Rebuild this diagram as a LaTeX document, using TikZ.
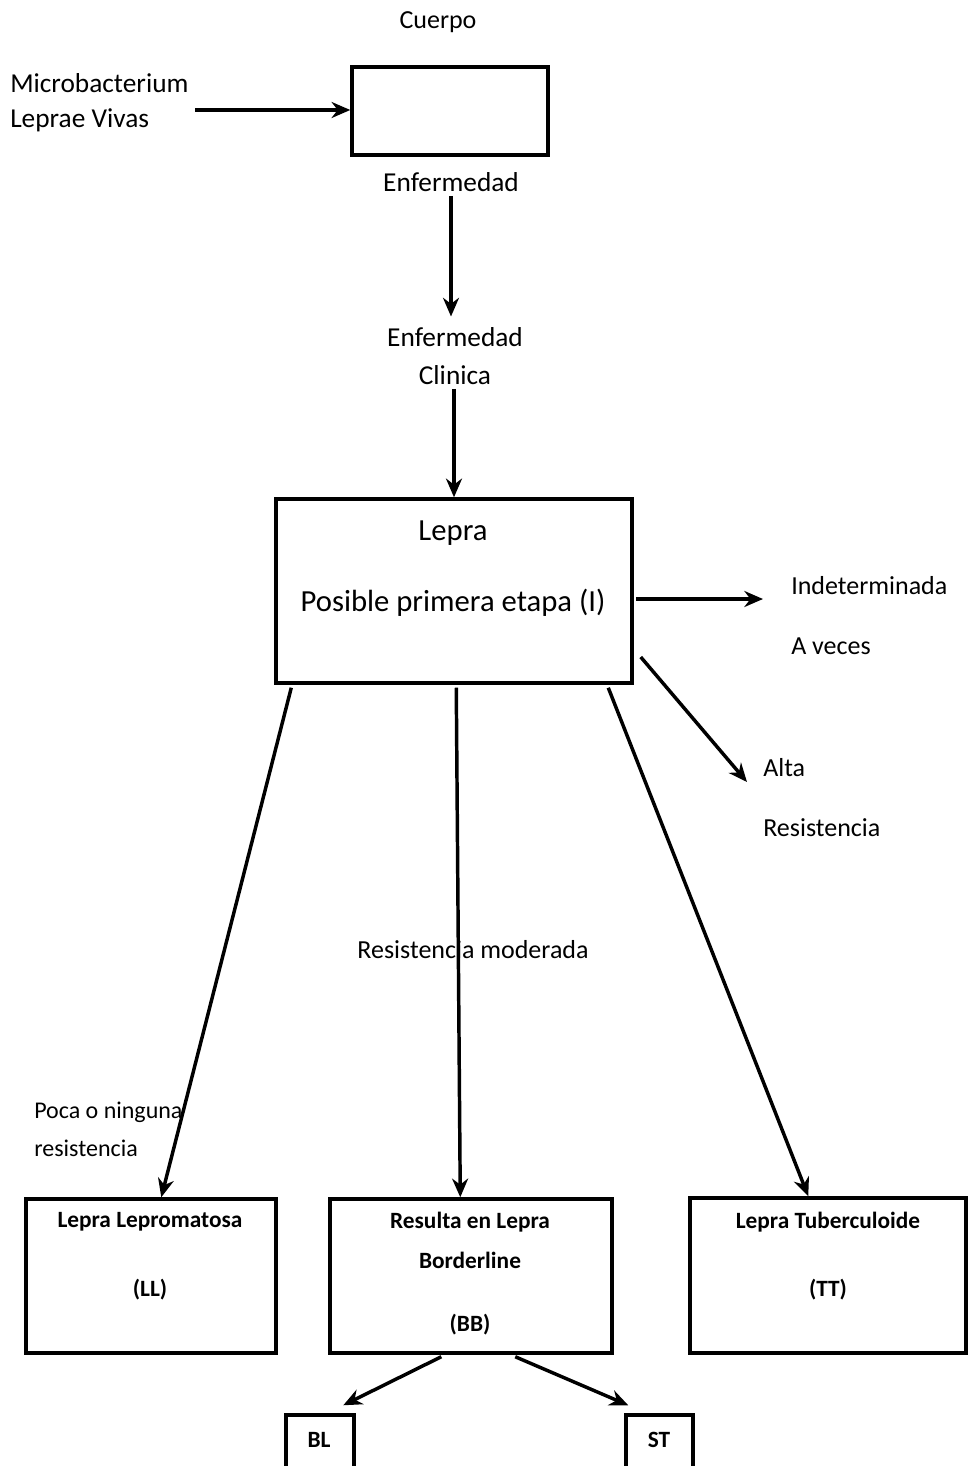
\documentclass[tikz,border=0pt]{standalone}
\usepackage{fontspec}
\setmainfont{Carlito}
\usetikzlibrary{arrows.meta,fit,calc}
\begin{document}
\begin{tikzpicture}[x=0.75pt,y=-0.75pt,
  box/.style={draw, line width=2.6pt, inner sep=0pt},
  arr/.style={line width=2.6pt, -{Stealth[length=14pt,width=12pt]}},
  lbl/.style={inner sep=0pt, font=\fontsize{19.5}{23}\selectfont},
  big/.style={inner sep=0pt, font=\fontsize{23}{27}\selectfont},
  bx/.style={inner sep=0pt, font=\fontsize{17.5}{21}\selectfont\bfseries}]
\fill[white] (0,0) rectangle (968,1466);
\clip (0,0) rectangle (968,1466);

% entry: the body
\node[lbl] (cuerpoT) at (438,22) {Cuerpo};
\node[box, fit={(352,67) (548,155)}] (cuerpo) {};
\node[lbl, anchor=west, font=\fontsize{20.5}{24}\selectfont] (micro1) at (10,83) {Microbacterium};
\node[lbl, anchor=west, font=\fontsize{20.5}{24}\selectfont] (micro2) at (10,120) {Leprae Vivas};
\node[lbl, font=\fontsize{20.5}{24}\selectfont] (enf1) at (451,182) {Enfermedad};
\node[lbl, font=\fontsize{20.5}{24}\selectfont] (enf2) at (455,337) {Enfermedad};
\node[lbl, font=\fontsize{20.5}{24}\selectfont] (clin) at (455,375) {Clinica};

% first stage
\node[box, fit={(276,499) (632,683)}] (lepra) {};
\node[big] (lepraT) at (453,533) {Lepra};
\node[big] (posible) at (453,603) {Posible primera etapa (I)};

% side labels
\node[lbl, anchor=west] (indet) at (791,586) {Indeterminada};
\node[lbl, anchor=west] (aveces) at (791,646) {A veces};
\node[lbl, anchor=west] (alta) at (763,768) {Alta};
\node[lbl, anchor=west] (resA) at (763,828) {Resistencia};
\node[lbl] (resM) at (473,950) {Resistencia moderada};
\node[lbl, anchor=west, font=\fontsize{18}{22}\selectfont] (poca) at (34,1112) {Poca o ninguna};
\node[lbl, anchor=west, font=\fontsize{18}{22}\selectfont] (resP) at (34,1148) {resistencia};

% outcome boxes
\node[box, fit={(26,1199) (276,1353)}] (ll) {};
\node[bx] (llT) at (150,1222) {Lepra Lepromatosa};
\node[bx] (llC) at (150,1290) {(LL)};
\node[box, fit={(330,1199) (612,1353)}] (bb) {};
\node[bx] (bbT) at (470,1222) {Resulta en Lepra};
\node[bx] (bbT2) at (470,1260) {Borderline};
\node[bx] (bbC) at (470,1325) {(BB)};
\node[box, fit={(690,1198) (966,1353)}] (tt) {};
\node[bx] (ttT) at (828,1222) {Lepra Tuberculoide};
\node[bx] (ttC) at (828,1290) {(TT)};

% borderline sub-forms
\node[box, fit={(286,1415) (354,1500)}] (bl) {};
\node[bx] (blT) at (319,1440) {BL};
\node[box, fit={(626,1415) (693,1500)}] (st) {};
\node[bx] (stT) at (659,1440) {ST};

% connectors
\draw[arr, shorten <=5pt] (micro1.east |- 0,110) -- (cuerpo.west |- 0,110);
\draw[arr, shorten <=3pt, shorten >=8pt] (enf1.south) -- (enf1.south |- enf2.north);
\draw[arr, shorten <=3pt] (lepra.north |- clin.south) -- (lepra.north);
\draw[arr, shorten <=2pt, shorten >=21pt] (lepra.east |- 0,599) -- (indet.west |- 0,599);
\draw[arr] ($(lepra.east)+(7,66)$) -- ($(alta.west)+(-16,14)$);
\draw[arr] ($(lepra.south west)+(17,3)$) -- ($(ll.north west)+(137,0)$);
\draw[arr] ($(lepra.south west)+(182,3)$) -- ($(bb.north west)+(132,0)$);
\draw[arr] ($(lepra.south west)+(334,3)$) -- ($(tt.north west)+(120,0)$);
\draw[arr] ($(bb.south west)+(113,2)$) -- ($(bl.north west)+(59,-8)$);
\draw[arr] ($(bb.south west)+(187,2)$) -- ($(st.north west)+(4,-8)$);
\end{tikzpicture}
\end{document}
